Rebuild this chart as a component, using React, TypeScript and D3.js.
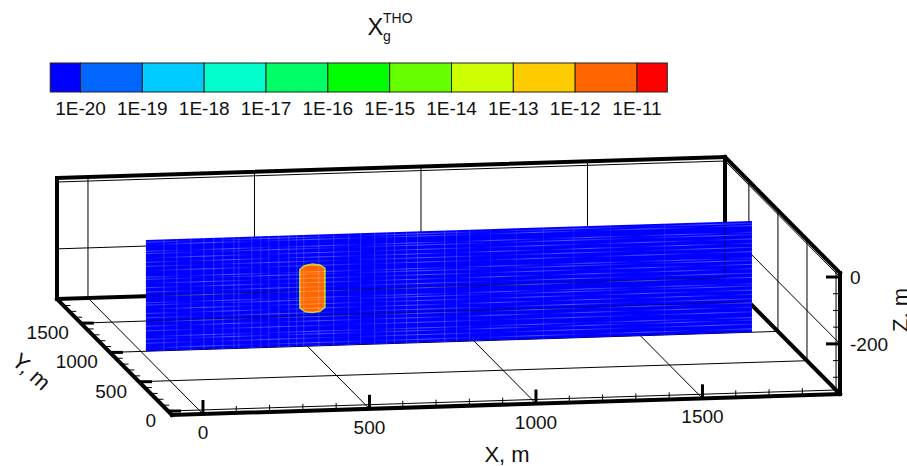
import React from "react";
import * as d3 from "d3";

const legendExponents = [-20, -19, -18, -17, -16, -15, -14, -13, -12, -11];
const legendLabels = ["1E-20", "1E-19", "1E-18", "1E-17", "1E-16", "1E-15", "1E-14", "1E-13", "1E-12", "1E-11"];
const legendColors = ["#0000ff", "#0066ff", "#00ccff", "#00ffcc", "#00ff66", "#00ff00", "#66ff00", "#ccff00", "#ffcc00", "#ff6600", "#ff0000"];
const legendDomain = [-20.49, -10.51];

const xDomain = [-93, 1913];
const yDomain = [-68, 1911];
const zDomain = [-350, 12];
const xMajor = [0, 500, 1000, 1500];
const xMinor = [100, 200, 300, 400, 600, 700, 800, 900, 1100, 1200, 1300, 1400, 1600, 1700, 1800, 1900];
const yMajor = [0, 500, 1000, 1500];
const yMinor = [100, 200, 300, 400, 600, 700, 800, 900, 1100, 1200, 1300, 1400, 1600, 1700, 1800, 1900];
const zMajor = [0, -200];
const zMinor = [-50, -100, -150, -250, -300];

const sliceY = 1000;
const sliceX = [15, 1835];
const sliceZ = [-350, -17];
const cellX = [69, 108, 150, 189, 219, 246, 279, 294, 333, 360, 384, 414, 444, 468, 489, 534, 579, 624, 660, 702, 738, 762, 798, 831, 912, 948, 987, 1050, 1128, 1209, 1300, 1410, 1573];
const cellZ = [-340, -326, -314, -306, -289, -275, -262, -250, -237, -224, -212, -205, -186, -173, -160, -147, -135, -128, -109, -96, -84, -71, -58, -51, -31, -24];
const plumeX = [478, 493, 515, 538, 552, 552, 538, 515, 493, 478];
const plumeZ = [-119, -109, -105, -109, -119, -235, -246, -249, -246, -235];
const fadePeriods = [110, 145, 90];
const fadeStarts = [150, 205, 185];

const px = d3.scaleLinear().domain(xDomain).range([0, 668]);
const py = d3.scaleLinear().domain(yDomain).range([0, 1]);
const pz = d3.scaleLinear().domain(zDomain).range([0, 121]);
const origin = [172, 415];
const project = (x: number, y: number, z: number): [number, number] => {
  const a = px(x), b = py(y), c = pz(z);
  return [origin[0] + a - 115 * b, origin[1] - a * (21 / 668) - 116 * b - c];
};

type Seg = [[number, number], [number, number]];
const [x0, x1] = xDomain, [y0, y1] = yDomain, [z0, z1] = zDomain;
const seg = (a: number[], b: number[]): Seg => [project(a[0], a[1], a[2]), project(b[0], b[1], b[2])];

const thinLines: Seg[] = [
  ...xMajor.map((x) => seg([x, y0, z0], [x, y1, z0])),
  ...xMajor.map((x) => seg([x, y1, z0], [x, y1, z1])),
  ...yMajor.map((y) => seg([x0, y, z0], [x1, y, z0])),
  ...yMajor.map((y) => seg([x1, y, z0], [x1, y, z1])),
  ...zMajor.map((z) => seg([x0, y1, z], [x1, y1, z])),
  ...zMajor.map((z) => seg([x1, y1, z], [x1, y0, z])),
];
const frameLines: Seg[] = [
  seg([x0, y0, z0], [x1, y0, z0]),
  seg([x0, y0, z0], [x0, y1, z0]),
  seg([x0, y1, z0], [x1, y1, z0]),
  seg([x1, y0, z0], [x1, y1, z0]),
  seg([x0, y1, z0], [x0, y1, z1]),
  seg([x1, y1, z0], [x1, y1, z1]),
  seg([x0, y1, z1], [x1, y1, z1]),
  seg([x1, y1, z1], [x1, y0, z1]),
  seg([x1, y0, z0], [x1, y0, z1]),
];
const behindSlice: Seg[] = [
  seg([x0, y1, z0], [x1, y1, z0]),
  seg([x1, y1, z0], [x1, y1, z1]),
  seg([x0, 1500, z0], [x1, 1500, z0]),
];

const line = d3.line<[number, number]>();
const Line = ({ s, w }: { s: Seg; w: number }) => (
  <line x1={s[0][0]} y1={s[0][1]} x2={s[1][0]} y2={s[1][1]} stroke="#000" strokeWidth={w} strokeLinecap="square" />
);

const font = "'Liberation Sans', Arial, sans-serif";
const labelSize = 19;

export default function App() {
  const slicePoly: [number, number][] = [
    project(sliceX[0], sliceY, sliceZ[0]),
    project(sliceX[1], sliceY, sliceZ[0]),
    project(sliceX[1], sliceY, sliceZ[1]),
    project(sliceX[0], sliceY, sliceZ[1]),
  ];
  const plume = plumeX.map((x, i) => project(x, sliceY, plumeZ[i]));
  const edges = [legendDomain[0], ...legendExponents, legendDomain[1]];
  const lg = d3.scaleLinear().domain([-20, -11]).range([80.5, 637]);
  return (
    <svg width={907} height={466} viewBox="0 0 907 466" style={{ position: "absolute", left: 0, top: 0, display: "block", background: "#fff" }} fontFamily={font} fill="#111">
      <defs>
        {fadePeriods.map((p, i) => (
          <linearGradient key={i} id={`fade${i}`} gradientUnits="userSpaceOnUse" x1={fadeStarts[i]} x2={fadeStarts[i] + p} y1={0} y2={0} spreadMethod="repeat">
            <stop offset="0" stopColor="#fff" stopOpacity={0} />
            <stop offset="0.5" stopColor="#fff" stopOpacity={0.36} />
            <stop offset="1" stopColor="#fff" stopOpacity={0} />
          </linearGradient>
        ))}
        <clipPath id="sliceClip"><path d={line(slicePoly) + "Z"} /></clipPath>
      </defs>

      <text x={367.5} y={35} fontSize={23.5}>X</text>
      <text x={383} y={23} fontSize={14}>THO</text>
      <text x={383} y={41} fontSize={14}>g</text>

      {legendColors.map((c, i) => (
        <rect key={c} x={lg(edges[i])} y={63} width={lg(edges[i + 1]) - lg(edges[i])} height={29} fill={c} stroke="#222" strokeWidth={1} />
      ))}
      {legendExponents.map((e, i) => (
        <text key={e} x={lg(e)} y={115} fontSize={labelSize} textAnchor="middle">{legendLabels[i]}</text>
      ))}

      {thinLines.map((s, i) => <Line key={i} s={s} w={1} />)}
      {frameLines.map((s, i) => <Line key={i} s={s} w={4} />)}

      {xMajor.map((x) => {
        const p = project(x, y0, z0);
        return <line key={x} x1={p[0]} y1={p[1]} x2={p[0]} y2={p[1] - 14} stroke="#000" strokeWidth={3} />;
      })}
      {xMinor.map((x) => {
        const p = project(x, y0, z0);
        return <line key={x} x1={p[0]} y1={p[1]} x2={p[0]} y2={p[1] - 7} stroke="#000" strokeWidth={1} />;
      })}
      {yMajor.map((y) => {
        const p = project(x0, y, z0);
        return <line key={y} x1={p[0]} y1={p[1]} x2={p[0] + 13} y2={p[1]} stroke="#000" strokeWidth={3} />;
      })}
      {yMinor.map((y) => {
        const p = project(x0, y, z0);
        return <line key={y} x1={p[0]} y1={p[1]} x2={p[0] + 7} y2={p[1]} stroke="#000" strokeWidth={1} />;
      })}
      {zMajor.map((z) => {
        const p = project(x1, y0, z);
        return <line key={z} x1={p[0]} y1={p[1]} x2={p[0] - 14} y2={p[1]} stroke="#000" strokeWidth={3} />;
      })}
      {zMinor.map((z) => {
        const p = project(x1, y0, z);
        return <line key={z} x1={p[0]} y1={p[1]} x2={p[0] - 7} y2={p[1]} stroke="#000" strokeWidth={1} />;
      })}

      <path d={line(slicePoly) + "Z"} fill="#0000ff" />
      <g stroke="#000" strokeOpacity={0.35} fill="none" clipPath="url(#sliceClip)">
        {behindSlice.map((s, i) => <path key={i} d={line(s) ?? ""} strokeWidth={1.5} />)}
      </g>
      <path d={line(plume) + "Z"} fill="#ff6600" stroke="#33dd66" strokeWidth={2} strokeLinejoin="round" />
      <path d={line(plume) + "Z"} fill="#ff6600" stroke="#ffcc00" strokeWidth={1} strokeLinejoin="round" />
      <g stroke="#fff" strokeWidth={0.9} fill="none">
        {cellX.map((x) => <path key={x} d={line(seg([x, sliceY, sliceZ[0]], [x, sliceY, sliceZ[1]])) ?? ""} strokeOpacity={x > 1000 ? 0.1 : 0.2} />)}
        {cellZ.map((z, i) => <path key={z} d={line(seg([sliceX[0], sliceY, z], [sliceX[1], sliceY, z])) ?? ""} stroke={`url(#fade${i % 3})`} />)}
      </g>

      {xMajor.map((x) => {
        const p = project(x, y0, z0);
        return <text key={x} x={p[0]} y={p[1] + 25} fontSize={labelSize} textAnchor="middle">{x}</text>;
      })}
      {yMajor.map((y) => {
        const p = project(x0, y, z0);
        return <text key={y} x={p[0] - 12} y={p[1] + 16} fontSize={labelSize} textAnchor="end">{y}</text>;
      })}
      {zMajor.map((z) => {
        const p = project(x1, y0, z);
        return <text key={z} x={p[0] + 10} y={p[1] + 7} fontSize={labelSize}>{z}</text>;
      })}
      <text x={507} y={462} fontSize={22} textAnchor="middle">X, m</text>
      <text transform="translate(31 372) rotate(42)" fontSize={22} textAnchor="middle" dy={7}>Y, m</text>
      <text transform="translate(908 310) rotate(-90)" fontSize={22} textAnchor="middle">Z, m</text>
    </svg>
  );
}
